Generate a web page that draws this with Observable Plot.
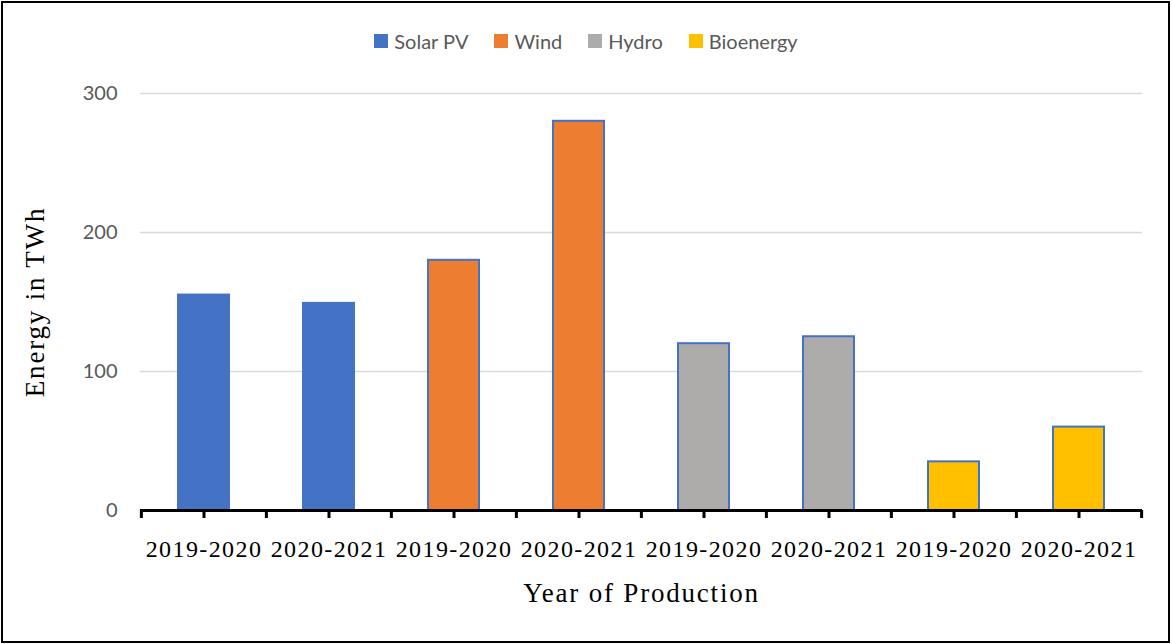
<!DOCTYPE html>
<html>
<head>
<meta charset="utf-8">
<script src="https://cdn.jsdelivr.net/npm/d3@7"></script>
<script src="https://cdn.jsdelivr.net/npm/@observablehq/plot@0.6"></script>
<style>
  body { margin: 0; background: #fff; width: 1172px; height: 644px; position: relative; overflow: hidden; }
  #frame { position: absolute; left: 1px; top: 1px; width: 1169px; height: 642px; border: 2px solid #000; box-sizing: border-box; pointer-events: none; }
  #legend { position: absolute; top: 29px; left: 0px; width: 1172px; display: flex; justify-content: center; gap: 26px;
            font-family: Lato, "Open Sans", sans-serif; font-size: 20px; color: #595959; line-height: 24px; }
  #legend .item { display: flex; align-items: center; gap: 6px; }
  #legend .sw { width: 14px; height: 14px; display: inline-block; }
  #chart { position: absolute; top: 70px; left: 0; }
  #chart g[aria-label="x-axis tick label"] text { letter-spacing: 1.4px; }
  #chart g[aria-label="text"] text { letter-spacing: 1.8px; }
</style>
</head>
<body>
<div id="legend"></div>
<div id="chart"></div>
<div id="frame"></div>
<script>
const sources = ["Solar PV", "Wind", "Hydro", "Bioenergy"];
const years = ["2019-2020", "2020-2021"];
const solarPV = [155, 149];
const wind = [180, 280];
const hydro = [120, 125];
const bioenergy = [35, 60];
const colors = ["#4472C4", "#ED7D31", "#AEABAB", "#FFC000"];
const yTicks = [0, 100, 200, 300];
const xTitle = "Year of Production";
const yTitle = "Energy in TWh";

const series = [solarPV, wind, hydro, bioenergy];
const rows = sources.flatMap((s, i) => years.map((yr, j) => ({source: s, year: yr, key: s + " " + yr, value: series[i][j]})));
const keys = rows.map(d => d.key);
const yearOf = Object.fromEntries(rows.map(d => [d.key, d.year]));

const W = 1172, H = 572, mL = 140, mR = 30, mT = 23, mB = 132;
const step = (W - mL - mR) / keys.length;

// legend
const legend = document.getElementById("legend");
sources.forEach((s, i) => {
  const it = document.createElement("div");
  it.className = "item";
  it.innerHTML = `<span class="sw" style="background:${colors[i]}"></span><span>${s}</span>`;
  legend.appendChild(it);
});

const serif = '"Liberation Serif", "Times New Roman", serif';

const chart = Plot.plot({
  width: W, height: H,
  marginLeft: mL, marginRight: mR, marginTop: mT, marginBottom: mB,
  style: {background: "transparent", overflow: "visible"},
  x: {domain: keys, padding: 0, axis: null},
  y: {domain: [0, 300], axis: null},
  color: {domain: sources, range: colors},
  marks: [
    Plot.gridY(yTicks.filter(t => t > 0), {stroke: "#d9d9d9", strokeOpacity: 1, strokeWidth: 1.5}),
    Plot.axisY(yTicks, {tickSize: 0, tickPadding: 23, fontSize: 20, fill: "#595959", label: null, fontFamily: 'Lato, "Open Sans", sans-serif'}),
    Plot.barY(rows, {x: "key", y: "value", fill: "source", stroke: "#4472C4", strokeWidth: 2, insetLeft: 37, insetRight: 37}),
    Plot.ruleY([0], {stroke: "#000", strokeWidth: 3}),
    Plot.ruleX(keys, {x: d => d, y1: 0, y2: 0, insetBottom: -8, stroke: "#000", strokeWidth: 3}),
    Plot.ruleX(keys, {x: d => d, y1: 0, y2: 0, insetBottom: -8, dx: -step / 2, stroke: "#000", strokeWidth: 3}),
    Plot.ruleX(keys.slice(-1), {x: d => d, y1: 0, y2: 0, insetBottom: -8, dx: step / 2, stroke: "#000", strokeWidth: 3}),
    Plot.axisX({tickSize: 0, tickPadding: 29, tickFormat: k => yearOf[k], fontSize: 24, fill: "#000", fontFamily: serif, label: null}),
    Plot.text([xTitle], {frameAnchor: "bottom", dy: 91, fontSize: 27, fontFamily: serif, fill: "#000"}),
    Plot.text([yTitle], {frameAnchor: "left", textAnchor: "middle", rotate: -90, dx: -105, fontSize: 27, fontFamily: serif, fill: "#000"})
  ]
});
document.getElementById("chart").appendChild(chart);
</script>
</body>
</html>
